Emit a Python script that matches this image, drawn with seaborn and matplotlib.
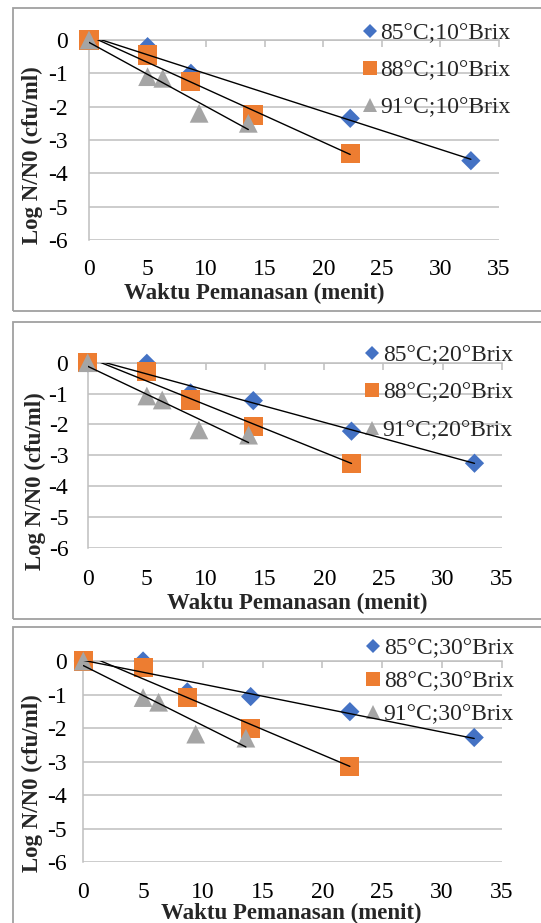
import matplotlib
matplotlib.use("Agg")
import numpy as np
import pandas as pd
import seaborn as sns
import matplotlib.pyplot as plt
from matplotlib.patches import Rectangle
from matplotlib.lines import Line2D

# ---------------- data ----------------
x_ticks = [0, 5, 10, 15, 20, 25, 30, 35]
y_ticks = [-6, -5, -4, -3, -2, -1, 0]
x_label = "Waktu Pemanasan (menit)"
y_label = "Log N/N0 (cfu/ml)"

# 10 Brix
t85_10 = [0, 5, 8.7, 22.3, 32.6]
y85_10 = [0, -0.2, -1.0, -2.35, -3.62]
t88_10 = [0, 5, 8.7, 14, 22.3]
y88_10 = [0, -0.45, -1.25, -2.25, -3.4]
t91_10 = [0, 5, 6.3, 9.4, 13.6]
y91_10 = [0, -1.1, -1.15, -2.2, -2.5]

# 20 Brix
t85_20 = [0, 5, 8.7, 14, 22.3, 32.7]
y85_20 = [0, -0.02, -0.98, -1.23, -2.22, -3.26]
t88_20 = [0, 5, 8.7, 14, 22.3]
y88_20 = [0, -0.29, -1.21, -2.08, -3.26]
t91_20 = [0, 5, 6.3, 9.4, 13.6]
y91_20 = [0, -1.08, -1.21, -2.18, -2.35]

# 30 Brix
t85_30 = [0, 5, 8.7, 14, 22.3, 32.7]
y85_30 = [0, 0.0, -0.92, -1.06, -1.51, -2.28]
t88_30 = [0, 5, 8.7, 14, 22.3]
y88_30 = [0, -0.2, -1.08, -2.0, -3.15]
t91_30 = [0, 5, 6.3, 9.4, 13.6]
y91_30 = [0, -1.09, -1.23, -2.18, -2.3]

labels_10 = ["85°C;10°Brix", "88°C;10°Brix", "91°C;10°Brix"]
labels_20 = ["85°C;20°Brix", "88°C;20°Brix", "91°C;20°Brix"]
labels_30 = ["85°C;30°Brix", "88°C;30°Brix", "91°C;30°Brix"]

# ---------------- style ----------------
sns.set_theme(style="white")
plt.rcParams["font.family"] = ["Liberation Serif", "DejaVu Serif"]
plt.rcParams["axes.unicode_minus"] = False

W, H = 541, 923
fig = plt.figure(figsize=(W / 100, H / 100), dpi=100)

colors = ["#4472C4", "#ED7D31", "#A5A5A5"]
markers = ["D", "s", "^"]
sizes = [9.8 ** 2, 13.7 ** 2, 13.5 ** 2]
leg_ms = [7.2, 9.4, 9.8]
gray = "#BFBFBF"
FS_TICK = 17
FS_LEG = 17
FS_LAB = 16.5


def px_rect(l, t, r, b):
    return [l / W, 1 - b / H, (r - l) / W, (b - t) / H]


panels = [
    dict(rect=px_rect(89, 40, 499, 240),
         series=[(t85_10, y85_10), (t88_10, y88_10), (t91_10, y91_10)],
         labels=labels_10, ypad=15, xpad=14,
         xl=(0.402, -0.265), yl=(-0.139, 0.425),
         leg=(511, 23), lsp=0.65, box=(8, 310.7)),
    dict(rect=px_rect(87.7, 362.7, 501.7, 547.7),
         series=[(t85_20, y85_20), (t88_20, y88_20), (t91_20, y91_20)],
         labels=labels_20, ypad=14, xpad=15,
         xl=(0.5056, -0.299), yl=(-0.127, 0.3605),
         leg=(513, 344.5), lsp=0.68, box=(322.3, 619)),
    dict(rect=px_rect(83.3, 661, 501.7, 862.3),
         series=[(t85_30, y85_30), (t88_30, y88_30), (t91_30, y91_30)],
         labels=labels_30, ypad=12, xpad=14,
         xl=(0.4964, -0.252), yl=(-0.1226, 0.394),
         leg=(514, 638), lsp=0.47, box=(627, 945)),
]

for p in panels:
    # frame box around each chart
    top, bot = p["box"]
    fig.add_artist(Rectangle((13 / W, 1 - bot / H), (600 - 13) / W, (bot - top) / H,
                             transform=fig.transFigure, fill=False,
                             edgecolor="#A0A0A0", linewidth=1.3, clip_on=False))

    ax = fig.add_axes(p["rect"])
    for i, (t, y) in enumerate(p["series"]):
        df = pd.DataFrame({"t": t, "y": y})
        sns.scatterplot(data=df, x="t", y="y", marker=markers[i], s=sizes[i],
                        color=colors[i], edgecolor="none", linewidth=0,
                        ax=ax, clip_on=False, zorder=3 + i, legend=False)
        sns.regplot(data=df, x="t", y="y", scatter=False, ci=None, truncate=True,
                    color="black", line_kws=dict(lw=1.0, zorder=10), ax=ax)

    ax.set_xlim(0, 35)
    ax.set_ylim(-6, 0)
    ax.set_xticks(x_ticks)
    ax.set_yticks(y_ticks)
    ax.set_xticklabels([str(v) for v in x_ticks])
    ax.set_yticklabels([str(v) for v in y_ticks])
    ax.grid(axis="y", color=gray, linewidth=1.1)
    ax.grid(axis="x", visible=False)
    ax.set_axisbelow(True)
    for s in ["right", "bottom"]:
        ax.spines[s].set_visible(False)
    for s in ["top", "left"]:
        ax.spines[s].set_visible(True)
        ax.spines[s].set_color(gray)
        ax.spines[s].set_linewidth(1.1)
    ax.tick_params(axis="x", bottom=False, top=True, direction="in", length=5,
                   width=1.1, color=gray, labelbottom=True, labeltop=False,
                   labelsize=FS_TICK, pad=p["xpad"], labelcolor="black")
    ax.tick_params(axis="y", left=False, length=0, labelsize=FS_TICK,
                   pad=p["ypad"], labelcolor="black")

    ax.set_xlabel(x_label, fontsize=FS_LAB, fontweight="bold", va="center", ha="center")
    ax.set_ylabel(y_label, fontsize=FS_LAB, fontweight="bold", va="center", ha="center")
    ax.xaxis.set_label_coords(*p["xl"])
    ax.yaxis.set_label_coords(*p["yl"])

    handles = [Line2D([], [], linestyle="none", marker=markers[i], color=colors[i],
                      markeredgewidth=0, markersize=leg_ms[i]) for i in range(3)]
    lx, ly = p["leg"]
    ax.legend(handles, p["labels"], loc="upper right",
              bbox_to_anchor=(lx / W, 1 - ly / H), bbox_transform=fig.transFigure,
              frameon=False, fontsize=FS_LEG, handlelength=0.6, handletextpad=0.15,
              labelspacing=p["lsp"], borderpad=0, borderaxespad=0)

fig.savefig("out.png", dpi=100)
